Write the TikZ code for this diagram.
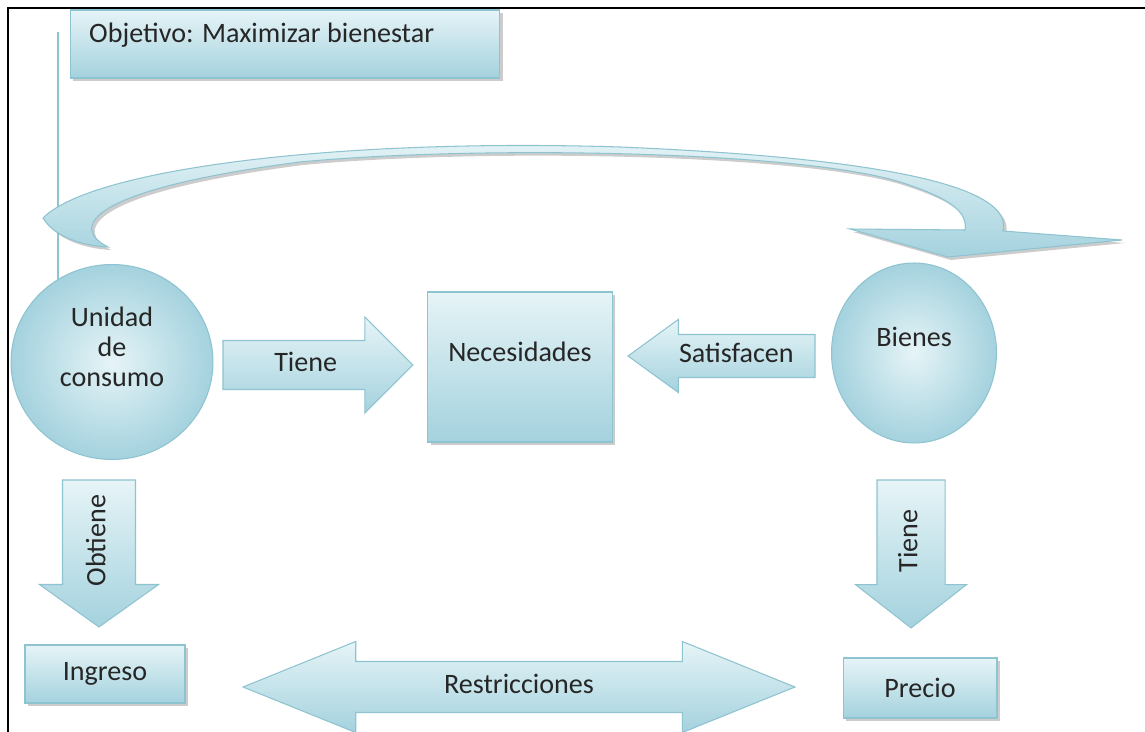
\documentclass[tikz,border=0pt]{standalone}
\usepackage{fontspec}
\setmainfont{Carlito}
\usetikzlibrary{shapes.geometric,shapes.arrows,shadows}

\definecolor{paleaqua}{HTML}{E6F4F7}
\definecolor{deepaqua}{HTML}{A4D2DE}
\definecolor{rimaqua}{HTML}{8EC3D0}

\tikzset{
  aqua/.style={draw=rimaqua, line width=0.6pt, top color=paleaqua, bottom color=deepaqua},
  shadowed/.style={drop shadow={shadow xshift=0.6mm, shadow yshift=-0.6mm, fill=black!50, opacity=0.4}},
  box/.style={aqua, shadowed, rectangle, inner sep=0pt},
  bubble/.style={ellipse, draw=rimaqua, line width=0.6pt, inner color=paleaqua, outer color=deepaqua, inner sep=0pt},
  blockarrow/.style={aqua, single arrow, inner xsep=0pt, outer sep=0pt, text height=0.35cm, text depth=0.1cm},
}

\begin{document}
\begin{tikzpicture}[x=0.02cm, y=-0.02cm, font=\fontsize{16}{17}\selectfont, text=black!85]
    \useasboundingbox (0,0) rectangle (1145,732);

    % Frame and guide line
    \draw[black, line width=0.8pt] (8,732) -- (8,8) -- (1145,8);
    \draw[rimaqua, line width=1.2pt] (58,32) -- (58,290);

    % Objective
    \node[box, minimum width=8.6cm, minimum height=1.36cm] (objetivo) at (285,44) {};
    \node[anchor=west] (objetivotxt) at (83,35) {Objetivo: Maximizar bienestar};

    % Curved arrow over the top
    \draw[aqua, shadowed] (1003,231)
        .. controls (1012,195) and (930,160) .. (620,147)
        .. controls (330,138) and (90,170) .. (43,218)
        .. controls (55,238) and (85,246) .. (108,247)
        .. controls (70,228) and (85,190) .. (300,162)
        .. controls (480,145) and (800,151) .. (900,182)
        .. controls (950,198) and (968,212) .. (965,230)
        -- (850,229) -- (948,257) -- (1122,240) -- cycle;

    % Main nodes
    \node[bubble, minimum width=4.04cm, minimum height=3.9cm,
          label={[yshift=0.3cm, align=center]center:Unidad\\de\\consumo}] (unidad) at (112,362) {};
    \node[box, minimum width=3.7cm, minimum height=3cm,
          label={[yshift=0.3cm]center:Necesidades}] (necesidades) at (520,367) {};
    \node[bubble, minimum width=3.3cm, minimum height=3.6cm,
          label={[yshift=0.32cm]center:Bienes}] (bienes) at (914,353) {};
    \node[box, minimum width=3.2cm, minimum height=1.16cm] (ingreso) at (105,674) {Ingreso};
    \node[box, minimum width=3.08cm, minimum height=1.2cm] (precio) at (920,688) {Precio};

    % Block arrows
    \node[blockarrow, anchor=tail, minimum height=3.8cm, inner ysep=0.255cm,
          single arrow head extend=0.47cm, single arrow tip angle=90] (tiene) at (223,365) {Tiene};
    \node[blockarrow, shape border rotate=180, anchor=tail, minimum height=3.74cm, inner ysep=0.195cm,
          single arrow head extend=0.3cm, single arrow tip angle=72] (satisfacen) at (815,356) {Satisfacen};
    \node[blockarrow, rotate=90, shape border rotate=180, anchor=tail, minimum height=2.94cm, inner ysep=0.495cm,
          single arrow head extend=0.46cm, single arrow tip angle=109] (obtiene) at (99,480) {Obtiene};
    \node[blockarrow, rotate=90, shape border rotate=180, anchor=tail, minimum height=2.96cm, inner ysep=0.445cm,
          single arrow head extend=0.43cm, single arrow tip angle=104] (tienedos) at (911,480) {Tiene};
    \node[blockarrow, double arrow, minimum height=11.04cm, inner ysep=0.275cm,
          double arrow head extend=0.4cm, double arrow tip angle=44] (restricciones) at (519,687) {Restricciones};
\end{tikzpicture}
\end{document}
